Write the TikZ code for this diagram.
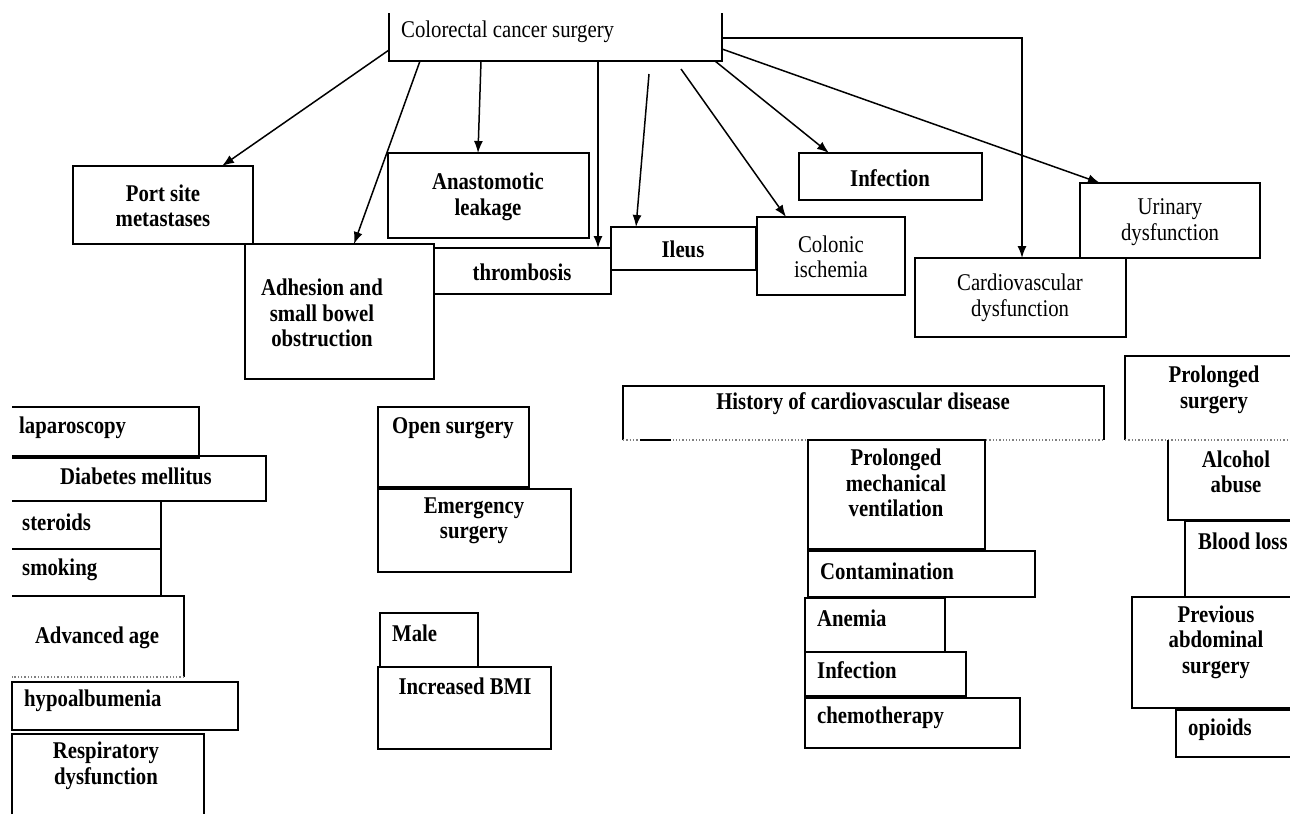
\documentclass[tikz,border=0pt]{standalone}
\usepackage{fontspec}
\setmainfont{Liberation Serif}[FakeStretch=0.865]
\usetikzlibrary{arrows.meta}
\begin{document}
\begin{tikzpicture}[x=1pt,y=-1pt,
  bx/.style={inner sep=0pt,outer sep=0pt,anchor=north west},
  fullbox/.style={bx,draw,line width=1.8pt},
  edge/.style={line width=1.8pt},
  dotl/.style={gray,dotted,line width=1.3pt},
  arr/.style={line width=1.5pt,-{Latex[length=12pt,width=9pt]}},
  tb/.style={inner sep=0pt,font=\fontsize{24}{25.5}\selectfont\bfseries,align=center},
  tr/.style={inner sep=0pt,font=\fontsize{24}{25.5}\selectfont,align=center},
  tl/.style={inner sep=0pt,font=\fontsize{24}{25.5}\selectfont\bfseries,anchor=west},
]
\useasboundingbox (0,0) rectangle (1290,814);

% ---------- top box (open at top) ----------
\node[bx,minimum width=333pt,minimum height=48pt] (crc) at (389,13) {};
\draw[edge] (crc.north west) -- (crc.south west) -- (crc.south east) -- (crc.north east);
\node[tr,anchor=west] (tcrc) at (401,32) {Colorectal cancer surgery};

% ---------- complications ----------
\node[fullbox,minimum width=180pt,minimum height=78pt] (port) at (73,166) {};
\node[tb] (tport) at (163,206) {Port site\\metastases};
\node[fullbox,minimum width=201pt,minimum height=85pt] (ana) at (388,153) {};
\node[tb] (tana) at (488,197) {Anastomotic\\leakage};
\node[fullbox,minimum width=189pt,minimum height=135pt] (adh) at (245,244) {};
\node[tb] (tadh) at (322,313) {Adhesion and\\small bowel\\obstruction};
\node[fullbox,minimum width=177pt,minimum height=46pt] (thr) at (434,248) {};
\node[tb] (tthr) at (522,272) {thrombosis};
\node[fullbox,minimum width=145pt,minimum height=43pt] (ile) at (611,227) {};
\node[tb] (tile) at (683,249) {Ileus};
\node[fullbox,minimum width=148pt,minimum height=78pt] (col) at (757,217) {};
\node[tr] (tcol) at (831,257) {Colonic\\ischemia};
\node[fullbox,minimum width=183pt,minimum height=47pt] (inf) at (799,153) {};
\node[tb] (tinf) at (890,178) {Infection};
\node[fullbox,minimum width=180pt,minimum height=75pt] (uri) at (1080,183) {};
\node[tr] (turi) at (1170,222) {Urinary\\dysfunction};
\node[fullbox,minimum width=211pt,minimum height=79pt] (car) at (915,258) {};
\node[tr] (tcar) at (1020,298) {Cardiovascular\\dysfunction};

% ---------- arrows ----------
\draw[arr] ([yshift=11pt]crc.south west) -- ([xshift=149pt]port.north west);
\draw[arr] ([xshift=31pt]crc.south west) -- ([xshift=109pt]adh.north west);
\draw[arr] ([xshift=92pt]crc.south west) -- ([xshift=90pt]ana.north west);
\draw[arr] ([xshift=209pt]crc.south west) -- ([xshift=164pt]thr.north west);
\draw[arr] ([xshift=260pt,yshift=-13pt]crc.south west) -- ([xshift=25pt]ile.north west);
\draw[arr] ([xshift=292pt,yshift=-8pt]crc.south west) -- ([xshift=29pt]col.north west);
\draw[arr] ([xshift=326pt]crc.south west) -- ([xshift=30pt]inf.north west);
\draw[arr] ([yshift=12pt]crc.south east) -- ([xshift=20pt]uri.north west);
\draw[arr] ([yshift=23pt]crc.south east) -| ([xshift=107pt]car.north west);

% ---------- left column (open at left) ----------
\node[bx,minimum width=187pt,minimum height=51pt] (lap) at (12,407) {};
\draw[edge] (lap.north west) -- (lap.north east) -- (lap.south east) -- (lap.south west);
\node[tl] (tlap) at (19,428) {laparoscopy};
\node[bx,minimum width=254pt,minimum height=45pt] (dia) at (12,456) {};
\draw[edge] (dia.north west) -- (dia.north east) -- (dia.south east) -- (dia.south west);
\node[tb] (tdia) at (136,476) {Diabetes mellitus};
\node[bx,minimum width=149pt,minimum height=48pt] (ste) at (12,501) {};
\draw[edge] (ste.north west) -- (ste.north east) -- (ste.south east) -- (ste.south west);
\node[tl] (tste) at (22,522) {steroids};
\node[bx,minimum width=149pt,minimum height=47pt] (smo) at (12,549) {};
\draw[edge] (smo.north west) -- (smo.north east) -- (smo.south east) -- (smo.south west);
\node[tl] (tsmo) at (22,570) {smoking};
\node[bx,minimum width=172pt,minimum height=81pt] (adv) at (12,596) {};
\draw[edge] (adv.north west) -- (adv.north east) -- (adv.south east);
\draw[dotl] (adv.south east) -- (adv.south west);
\node[tb] (tadv) at (97,638) {Advanced age};
\node[fullbox,minimum width=226pt,minimum height=48pt] (hyp) at (12,682) {};
\node[tl] (thyp) at (24,701) {hypoalbumenia};
\node[bx,minimum width=192pt,minimum height=80pt] (res) at (12,734) {};
\draw[edge] (res.south west) -- (res.north west) -- (res.north east) -- (res.south east);
\node[tb] (tres) at (106,766) {Respiratory\\dysfunction};

% ---------- middle column ----------
\node[fullbox,minimum width=151pt,minimum height=80pt] (ope) at (378,407) {};
\node[tl] (tope) at (392,428) {Open surgery};
\node[fullbox,minimum width=193pt,minimum height=83pt] (eme) at (378,489) {};
\node[tb] (teme) at (474,521) {Emergency\\surgery};
\node[fullbox,minimum width=98pt,minimum height=54pt] (mal) at (380,613) {};
\node[tl] (tmal) at (392,633) {Male};
\node[fullbox,minimum width=173pt,minimum height=82pt] (bmi) at (378,667) {};
\node[tb] (tbmi) at (465,686) {Increased BMI};

% ---------- centre-right column ----------
\node[bx,minimum width=481pt,minimum height=54pt] (his) at (623,386) {};
\draw[edge] (his.south west) -- (his.north west) -- (his.north east) -- (his.south east);
\draw[dotl] (his.south west) -- (his.south east);
\draw[edge] ([xshift=17pt]his.south west) -- ([xshift=48pt]his.south west);
\node[tb] (this) at (863,404) {History of cardiovascular disease};
\node[fullbox,minimum width=177pt,minimum height=109pt] (pmv) at (808,440) {};
\node[tb] (tpmv) at (896,483) {Prolonged\\mechanical\\ventilation};
\node[fullbox,minimum width=227pt,minimum height=46pt] (con) at (808,551) {};
\node[tl] (tcon) at (820,571) {Contamination};
\node[fullbox,minimum width=140pt,minimum height=54pt] (ane) at (805,598) {};
\node[tl] (tane) at (817,618) {Anemia};
\node[fullbox,minimum width=161pt,minimum height=44pt] (in2) at (805,652) {};
\node[tl] (tin2) at (817,670) {Infection};
\node[fullbox,minimum width=215pt,minimum height=50pt] (che) at (805,698) {};
\node[tl] (tche) at (817,718) {chemotherapy};

% ---------- right column (open at right) ----------
\node[bx,minimum width=165pt,minimum height=84pt] (pro) at (1125,356) {};
\draw[edge] (pro.north east) -- (pro.north west) -- (pro.south west);
\draw[dotl] (pro.south west) -- (pro.south east);
\node[tb] (tpro) at (1214,390) {Prolonged\\surgery};
\node[bx,minimum width=122pt,minimum height=80pt] (alc) at (1168,440) {};
\draw[edge] (alc.north west) -- (alc.south west) -- (alc.south east);
\node[tb] (talc) at (1236,472) {Alcohol\\abuse};
\node[bx,minimum width=105pt,minimum height=76pt] (blo) at (1185,521) {};
\draw[edge] (blo.north east) -- (blo.north west) -- (blo.south west) -- (blo.south east);
\node[tl] (tblo) at (1198,541) {Blood loss};
\node[bx,minimum width=158pt,minimum height=111pt] (pre) at (1132,597) {};
\draw[edge] (pre.north east) -- (pre.north west) -- (pre.south west) -- (pre.south east);
\node[tb] (tpre) at (1216,642) {Previous\\abdominal\\surgery};
\node[bx,minimum width=114pt,minimum height=47pt] (opi) at (1176,710) {};
\draw[edge] (opi.north east) -- (opi.north west) -- (opi.south west) -- (opi.south east);
\node[tl] (topi) at (1188,730) {opioids};
\end{tikzpicture}
\end{document}
